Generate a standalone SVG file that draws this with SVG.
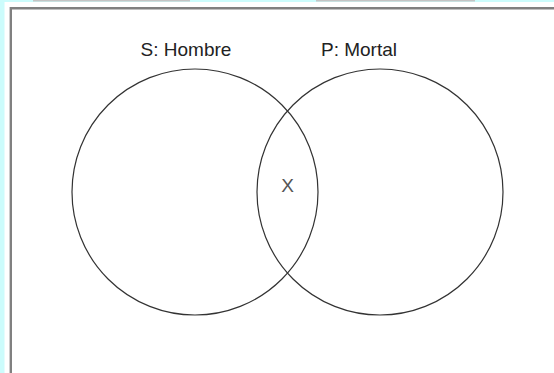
<svg xmlns="http://www.w3.org/2000/svg" width="554" height="373" viewBox="0 0 554 373">
<style>
.lbl{font-family:"Liberation Sans",Arial,sans-serif;font-size:19px;fill:#222;text-anchor:middle}
.set{fill:none;stroke:#333;stroke-width:1.2}
</style>
<rect x="0" y="0" width="554" height="373" fill="#ffffff"/>
<rect x="0" y="0" width="4.5" height="373" fill="#ccfcfc"/>
<rect x="0" y="0" width="554" height="2" fill="#ccfcfc"/>
<rect x="33" y="0" width="157" height="1.5" fill="#c4c4c4"/>
<rect x="316" y="0" width="159" height="1.5" fill="#c4c4c4"/>
<path d="M10.8 373 V8.2 H554" fill="none" stroke="#808080" stroke-width="2.4"/>
<g id="setS">
<circle class="set" cx="195" cy="192" r="123"/>
<text class="lbl" x="186" y="56">S: Hombre</text>
</g>
<g id="setP">
<circle class="set" cx="380" cy="192" r="123"/>
<text class="lbl" x="359" y="56">P: Mortal</text>
</g>
<g id="mark">
<text class="lbl" x="287.5" y="192" style="fill:#555">X</text>
</g>
<g id="connectors"/>
</svg>
